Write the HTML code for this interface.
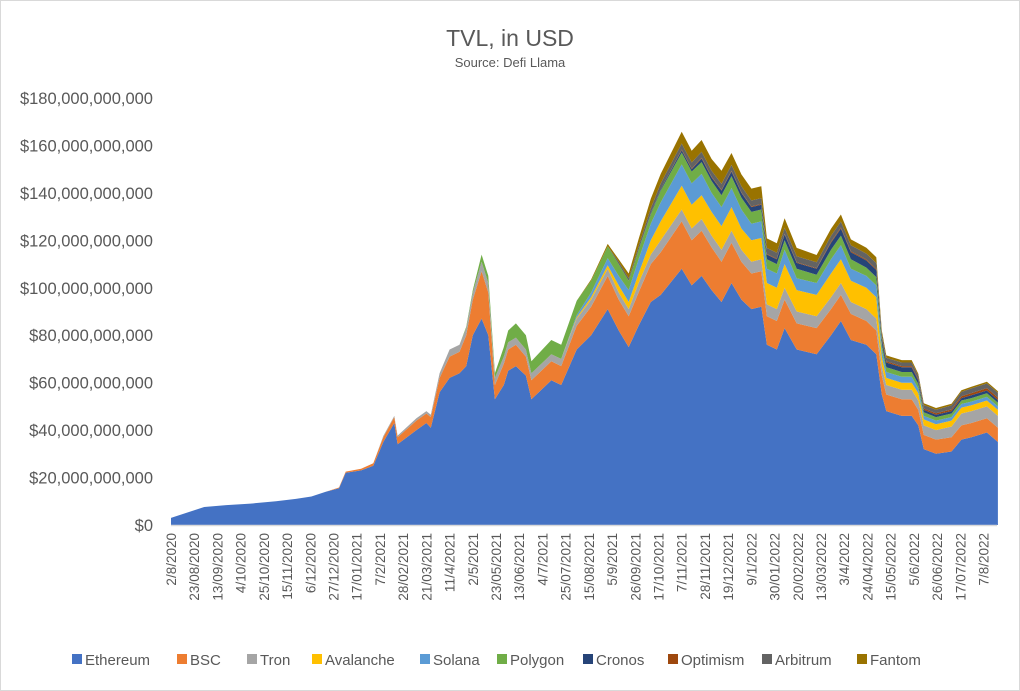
<!DOCTYPE html>
<html><head><meta charset="utf-8"><style>
html,body{margin:0;padding:0;background:#fff}
#wrap{position:relative;width:1020px;height:691px;overflow:hidden;font-family:"Liberation Sans",sans-serif}
svg text{font-family:"Liberation Sans",sans-serif}
</style></head><body>
<div id="wrap">
<svg id="chart" width="1020" height="691">
<rect x="0.5" y="0.5" width="1019" height="690" fill="#fff" stroke="#d9d9d9"/>
<text x="510" y="46" text-anchor="middle" font-size="23" fill="#595959">TVL, in USD</text>
<text x="510" y="67" text-anchor="middle" font-size="13" fill="#595959">Source: Defi Llama</text>
<g id="areas"></g>
<g id="yaxis"></g>
<g id="xaxis"></g>
<g id="legend"></g>
</svg>
</div>
<script>
const days=[0,30,50,72,95,113,127,140,152,158,172,183,192,202,205,222,231,235,243,252,261,267,273,281,287,293,301,305,312,321,326,344,353,367,380,395,405,414,423,434,443,462,471,480,489,498,507,516,525,534,539,548,555,566,584,597,606,615,629,638,643,647,661,670,676,681,692,706,715,724,738,748];
const ethereum=[3,7.6,8.4,9,10,11,12,14,15.5,22,23,25,35,43,34,40,43,41,56,62,64,67,80,87,80,53,59,65,67,63,53,61,59,74,80,91,82,75,84,94,97,108,101,105,99,94,102,95,91,92,76,74,83,74,72,80,86,78,76,72,55,48,46,46,42,32,30,31,36,37,39,35];
const bsc=[0,0,0,0,0,0,0,0,.3,.5,.7,1,2,2.5,3,4,4,4.5,6,9,9,13,15,20,18,6,9,9,9,8,8,8,8,10,12,14,13,13,14,16,18,20,19,19,18,17,17,16,15,15,12,12,12,11,11,11,11,11,10,10,8,7,7,7,6.5,6,6,6,6,6,6,6];
const tron=[0,0,0,0,0,0,0,0,0,0,0,0,.5,.5,.7,1,1,1,2,3,3,3,3,4,4,3,3,3,3,3,3,3,3,3,3,3,3,3,4,4,5,5,5,5,5,5,5,5,5,5,5,5,5,5,5,5,5,5,5,5,4,4,4,4,4,4,4,4.5,5,5,5,5];
const avalanche=[0,0,0,0,0,0,0,0,0,0,0,0,0,0,0,0,0,0,0,0,0,0,0,0,0,0,0,0,0,0,0,0,0,.5,1,1.5,3,3,4,6,8,10,10,10,10,10,10,9,9,9,9,9,10,9,9,10,10,9,9,9,4,3,3,3,3,2.5,2.5,2.5,2.5,2.5,2.5,2.5];
const solana=[0,0,0,0,0,0,0,0,0,0,0,0,0,0,0,0,0,0,0,0,0,0,0,0,0,0,0,0,0,0,0,0,0,1,2,3,4,5,6,7,8,9,9,9,8,8,8,8,7,7,6,6,6,5,5,6,6,5,5,5,3,2.5,2.5,2.5,2,1.5,1.5,1.5,1.5,1.5,1.5,1.5];
const polygon=[0,0,0,0,0,0,0,0,0,0,0,0,0,0,0,0,0,0,0,0,0,.5,1,3,3,2,4,5,6,6,5,6,6,6,5,5,5,4,4,4,5,5,5,5,5,5,5,5,5,5,4,4,4,4,3.5,4,4,4,3.5,3.5,2.5,2,2,2,2,1.5,1.5,1.5,1.5,1.5,1.5,1.5];
const cronos=[0,0,0,0,0,0,0,0,0,0,0,0,0,0,0,0,0,0,0,0,0,0,0,0,0,0,0,0,0,0,0,0,0,0,0,0,0,0,0,.5,.5,1,1,1.5,1.5,2,2,2,2,2,2,2,2.5,2.5,2.5,3,3,3,3,3,2,2,2,2,1.5,1,1,1,1,1.2,1.2,1.2];
const optimism=[0,0,0,0,0,0,0,0,0,0,0,0,0,0,0,0,0,0,0,0,0,0,0,0,0,0,0,0,0,0,0,0,0,0,0,0,0,0,0,0,0,.3,.3,.3,.3,.3,.3,.3,.3,.3,.3,.3,.3,.3,.3,.4,.4,.4,.4,.4,.5,.5,.5,.5,.5,.6,.6,.7,.8,.9,1,1];
const arbitrum=[0,0,0,0,0,0,0,0,0,0,0,0,0,0,0,0,0,0,0,0,0,0,0,0,0,0,0,0,0,0,0,0,0,0,0,0,1,1,1.5,2,2.5,2.5,2.5,2.5,2.5,2.5,2.5,2.5,2.5,2.5,2.5,2.5,2.5,2.5,2.5,2.5,2.5,2.5,2.5,2.5,1.5,1.5,1.5,1.5,1.5,1.5,1.5,1.7,1.8,2,2,2];
const fantom=[0,0,0,0,0,0,0,0,0,0,0,0,0,0,0,0,0,0,0,0,0,0,0,0,0,0,0,0,0,0,0,0,0,0,.5,1,1,2,3,4,4,5,5,5,5,5.5,5,5,5,5,4,4,4,3.5,3,3,3,2.5,2.5,2.5,1.5,1,1,1,.8,.7,.7,.7,.7,.7,.7,.7];
const seriesNames=["Ethereum","BSC","Tron","Avalanche","Solana","Polygon","Cronos","Optimism","Arbitrum","Fantom"];
const yTicks=[0,20,40,60,80,100,120,140,160,180];
const xTickLabels=["2/8/2020","23/08/2020","13/09/2020","4/10/2020","25/10/2020","15/11/2020","6/12/2020","27/12/2020","17/01/2021","7/2/2021","28/02/2021","21/03/2021","11/4/2021","2/5/2021","23/05/2021","13/06/2021","4/7/2021","25/07/2021","15/08/2021","5/9/2021","26/09/2021","17/10/2021","7/11/2021","28/11/2021","19/12/2021","9/1/2022","30/01/2022","20/02/2022","13/03/2022","3/4/2022","24/04/2022","15/05/2022","5/6/2022","26/06/2022","17/07/2022","7/8/2022"];

const series=[ethereum,bsc,tron,avalanche,solana,polygon,cronos,optimism,arbitrum,fantom];
const colors=["#4472C4","#ED7D31","#A5A5A5","#FFC000","#5B9BD5","#70AD47","#264478","#9E480E","#636363","#997300"];
const NS="http://www.w3.org/2000/svg";
const X0=171,PXD=1.1055,Y0=525,YTOP=98;
const xs=d=>X0+d*PXD;
const ys=v=>Y0-v*(Y0-YTOP)/180;
const areas=document.getElementById('areas');
let base=days.map(()=>0);
series.forEach((s,k)=>{
  const top=base.map((b,i)=>b+s[i]);
  let pts=days.map((d,i)=>xs(d).toFixed(1)+','+ys(top[i]).toFixed(1));
  for(let i=days.length-1;i>=0;i--)pts.push(xs(days[i]).toFixed(1)+','+ys(base[i]).toFixed(1));
  const p=document.createElementNS(NS,'polygon');
  p.setAttribute('points',pts.join(' '));
  p.setAttribute('fill',colors[k]);
  
  
  areas.appendChild(p);
  base=top;
});
const yax=document.getElementById('yaxis');
yTicks.forEach(v=>{
  const t=document.createElementNS(NS,'text');
  t.setAttribute('x',153);t.setAttribute('y',ys(v)+6);
  t.setAttribute('text-anchor','end');t.setAttribute('font-size','16.5');t.setAttribute('fill','#595959');
  t.textContent='$'+(v===0?'0':(v*1e9).toLocaleString('en-US'));
  
  
  yax.appendChild(t);
});
const xax=document.getElementById('xaxis');
const ln=document.createElementNS(NS,'line');
ln.setAttribute('x1',X0);ln.setAttribute('x2',997);ln.setAttribute('y1',Y0+0.5);ln.setAttribute('y2',Y0+0.5);
ln.setAttribute('stroke','#d9d9d9');ln.setAttribute('stroke-width','1.5');


xax.appendChild(ln);
xTickLabels.forEach((lab,i)=>{
  const x=xs(i*21)+5;
  const t=document.createElementNS(NS,'text');
  t.setAttribute('transform','translate('+x+',533) rotate(-90)');
  t.setAttribute('text-anchor','end');t.setAttribute('font-size','13.5');t.setAttribute('fill','#595959');
  t.textContent=lab;
  
  
  xax.appendChild(t);
});
const lx=[72,177,247,312,420,497,583,668,762,857];
const leg=document.getElementById('legend');
seriesNames.forEach((n,k)=>{
  const g=document.createElementNS(NS,'g');
  
  
  const r=document.createElementNS(NS,'rect');
  r.setAttribute('x',lx[k]);r.setAttribute('y',654);r.setAttribute('width',10);r.setAttribute('height',10);r.setAttribute('fill',colors[k]);
  
  
  const t=document.createElementNS(NS,'text');
  t.setAttribute('x',lx[k]+13);t.setAttribute('y',665);t.setAttribute('font-size','15');t.setAttribute('fill','#595959');
  t.textContent=n;
  
  
  g.appendChild(r);g.appendChild(t);leg.appendChild(g);
});
</script>
</body></html>
